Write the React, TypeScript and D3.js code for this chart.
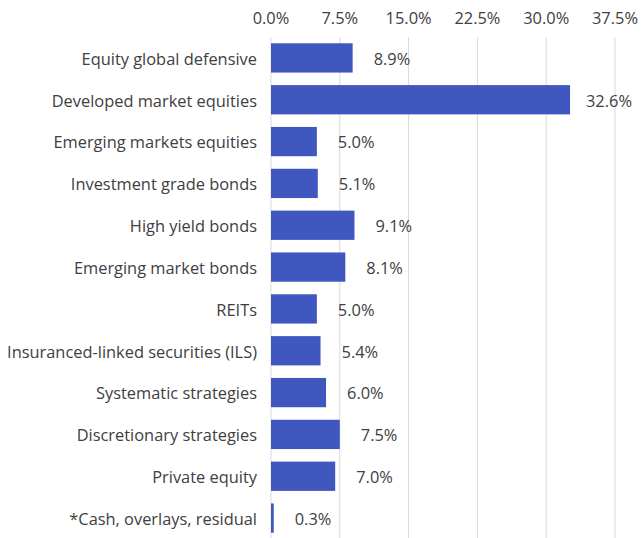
import React from "react";
import * as d3 from "d3";

const categories = [
  "Equity global defensive",
  "Developed market equities",
  "Emerging markets equities",
  "Investment grade bonds",
  "High yield bonds",
  "Emerging market bonds",
  "REITs",
  "Insuranced-linked securities (ILS)",
  "Systematic strategies",
  "Discretionary strategies",
  "Private equity",
  "*Cash, overlays, residual",
];
const values = [8.9, 32.6, 5.0, 5.1, 9.1, 8.1, 5.0, 5.4, 6.0, 7.5, 7.0, 0.3];
const ticks = [0, 7.5, 15, 22.5, 30, 37.5];

const W = 641;
const H = 538;
const left = 271;
const right = 615;
const top = 37;
const bottom = 539;
const font = "'Open Sans', sans-serif";
const fs = 16.4;
const textColor = "#404040";

export default function App() {
  const x = d3.scaleLinear().domain([0, 37.5]).range([left, right]);
  const y = d3.scaleBand<string>().domain(categories).range([top, bottom]).paddingInner(0.3).paddingOuter(0.15);
  return (
    <svg width={W} height={H} style={{ position: "absolute", left: 0, top: 0 }}>
      <rect width={W} height={H} fill="#fff" />
      {ticks.map((t) => (
        <g key={t}>
          <line x1={x(t)} x2={x(t)} y1={top} y2={H} stroke="#D9D9D9" strokeWidth={1} />
          <text x={x(t)} y={24} textAnchor="middle" fontFamily={font} fontSize={fs} fill={textColor}>
            {t.toFixed(1)}%
          </text>
        </g>
      ))}
      {categories.map((c, i) => {
        const yy = y(c)!;
        const bw = y.bandwidth();
        const lx = Math.min(x(values[i]) + 21, W - 55);
        return (
          <g key={c}>
            <rect x={x(0)} y={yy} width={x(values[i]) - x(0)} height={bw} fill="#3F57BF" />
            <text x={257} y={yy + bw / 2} dy="0.42em" textAnchor="end" fontFamily={font} fontSize={fs} fill={textColor}>
              {c}
            </text>
            <text x={lx} y={yy + bw / 2} dy="0.42em" fontFamily={font} fontSize={fs} fill={textColor}>
              {values[i].toFixed(1)}%
            </text>
          </g>
        );
      })}
    </svg>
  );
}
